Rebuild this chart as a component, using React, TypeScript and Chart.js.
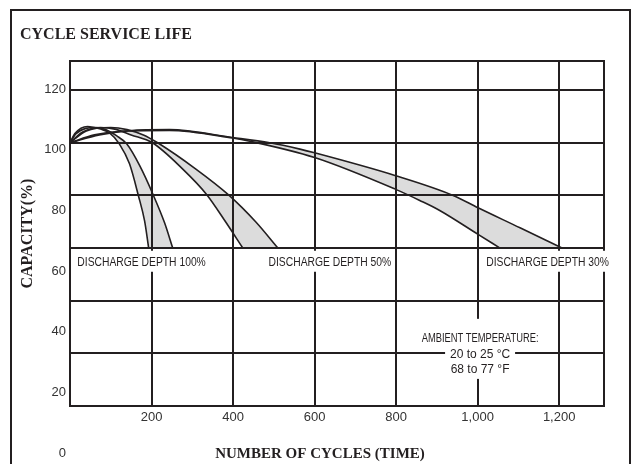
import React, { useEffect, useRef } from 'react';
import { Chart, registerables } from 'chart.js';

Chart.register(...registerables);

// ---- data (x = number of cycles, y = capacity %) ----
const depth100Lower: [number, number][] = [[0, 100], [12, 103.5], [43, 106.2], [75, 105.2], [97, 103.8], [121, 99.6], [146, 92], [168, 79.8], [183, 70.3], [193, 60]];
const depth100Upper: [number, number][] = [[0, 100], [15, 103.5], [62, 105.8], [90, 104.9], [114, 102.7], [139, 99.6], [171, 91.3], [205, 79.9], [232, 69.6], [252, 60]];
const depth50Lower: [number, number][] = [[0, 100], [30, 104], [75, 105.8], [110, 105.2], [150, 103], [202, 100], [276, 90.1], [336, 80.2], [382, 69.9], [424, 60]];
const depth50Upper: [number, number][] = [[0, 100], [40, 104.5], [100, 105.8], [140, 105], [180, 103], [215, 100], [308, 90.1], [389, 80.2], [456, 69.9], [510, 60]];
const depth30Lower: [number, number][] = [[0, 100], [60, 103], [134, 104.5], [244, 104.7], [399, 101.8], [441, 100.6], [600, 94.4], [799, 82.3], [858, 78.1], [907, 74.3], [1001, 65.2], [1055, 60]];
const depth30Upper: [number, number][] = [[0, 100], [72, 103], [146, 104.6], [244, 105], [399, 102], [490, 100], [564, 97.6], [600, 96.2], [799, 87.5], [940, 80], [1001, 75.3], [1104, 67.7], [1207, 60]];

const endCapacity = 60;

const xTickValues = [0, 200, 400, 600, 800, 1000, 1200, 1310];
const xTickLabels = ['', '200', '400', '600', '800', '1,000', '1,200', ''];
const yGridValues = [0, 20, 40, 60, 80, 100, 120, 131];
const yLabelValues = [0, 20, 40, 60, 80, 100, 120];
const yLabelTexts = ['0', '20', '40', '60', '80', '100', '120'];

const depthLabelTexts = ['DISCHARGE DEPTH 100%', 'DISCHARGE DEPTH 50%', 'DISCHARGE DEPTH 30%'];
const depthLabelXs = [18, 487, 1021];
const depthLabelY = 54.8;

const ambientLines = ['AMBIENT TEMPERATURE:', '20 to 25 °C', '68 to 77 °F'];
const ambientX = 1006;
const ambientYs = [25.9, 19.8, 14.1];

const INK = '#231f20';
const FILL = '#dcdcdc';
const SANS = '"Liberation Sans", Arial, sans-serif';
const SERIF = '"Liberation Serif", "Times New Roman", serif';

const toPts = (arr: [number, number][]) => arr.map(([x, y]) => ({ x, y }));

const annotationPlugin = {
  id: 'annotations',
  afterDraw(chart: any) {
    const { ctx } = chart;
    const xs = chart.scales.x;
    const ys = chart.scales.y;
    ctx.save();
    ctx.font = `12px ${SANS}`;
    ctx.textBaseline = 'middle';
    ctx.textAlign = 'left';
    depthLabelTexts.forEach((t, i) => {
      const left = xs.getPixelForValue(depthLabelXs[i]);
      const cy = ys.getPixelForValue(depthLabelY);
      const w = ctx.measureText(t).width * 0.86;
      ctx.fillStyle = '#ffffff';
      ctx.fillRect(left - 2, cy - 11, w + 4, 21);
      ctx.fillStyle = INK;
      ctx.fillText(t, left, cy + 0.5, w);
    });
    // ambient temperature block
    const cx = xs.getPixelForValue(ambientX);
    const y0 = ys.getPixelForValue(ambientYs[0]);
    const y2 = ys.getPixelForValue(ambientYs[ambientYs.length - 1]);
    ctx.fillStyle = '#ffffff';
    ctx.fillRect(cx - 35, y0 - 19, 70, y2 - y0 + 29);
    ctx.textAlign = 'center';
    ambientLines.forEach((t, i) => {
      const cy = ys.getPixelForValue(ambientYs[i]);
      const full = ctx.measureText(t).width;
      const w = i === 0 ? full * 0.78 : full;
      ctx.fillStyle = '#ffffff';
      ctx.fillRect(cx - w / 2 - 2, cy - 7, w + 4, 14);
      ctx.fillStyle = INK;
      ctx.fillText(t, cx, cy + 0.5, w);
    });
    ctx.restore();
  },
};

export default function App() {
  const ref = useRef<HTMLCanvasElement>(null);

  useEffect(() => {
    const canvas = ref.current;
    if (!canvas) return;
    const lineDs = (data: [number, number][], bg: string) => ({
      data: toPts(data),
      fill: { value: endCapacity },
      backgroundColor: bg,
      borderColor: INK,
      borderWidth: 1.6,
      pointRadius: 0,
      cubicInterpolationMode: 'monotone' as const,
      xAxisID: 'x',
      yAxisID: 'y',
    });
    const tickFont = { family: SANS, size: 13 };
    const chart = new Chart(canvas, {
      type: 'line',
      data: {
        datasets: [
          lineDs(depth100Lower, '#ffffff'),
          lineDs(depth100Upper, FILL),
          lineDs(depth50Lower, '#ffffff'),
          lineDs(depth50Upper, FILL),
          lineDs(depth30Lower, '#ffffff'),
          lineDs(depth30Upper, FILL),
        ] as any,
      },
      options: {
        responsive: false,
        animation: false,
        devicePixelRatio: 1,
        events: [],
        layout: { padding: { left: 20, right: 14, top: 0, bottom: 0 } },
        plugins: {
          legend: { display: false },
          tooltip: { enabled: false },
          filler: { drawTime: 'beforeDraw' },
          title: {
            display: true,
            text: 'CYCLE SERVICE LIFE',
            align: 'start',
            color: INK,
            font: { family: SERIF, size: 16, weight: 'bold', lineHeight: 1.2 },
            padding: { top: 25, bottom: 17 },
          },
          subtitle: {
            display: true,
            position: 'bottom',
            text: 'NUMBER OF CYCLES (TIME)',
            color: INK,
            font: { family: SERIF, size: 15, weight: 'bold', lineHeight: 1.2 },
            padding: { top: 19, bottom: 1 },
          },
        } as any,
        scales: {
          x: {
            type: 'linear',
            position: 'bottom',
            min: 0,
            max: 1310,
            afterBuildTicks: (s: any) => { s.ticks = xTickValues.map((v) => ({ value: v })); },
            afterFit: (s: any) => { s.height = 20; },
            ticks: {
              callback: (_v: any, i: number) => xTickLabels[i] ?? '',
              font: tickFont,
              color: '#333',
              padding: 4,
              autoSkip: false,
              maxRotation: 0,
            },
            grid: { color: INK, lineWidth: 2, drawTicks: false },
            border: { color: INK, width: 2 },
          },
          y: {
            type: 'linear',
            position: 'right',
            min: 0,
            max: 131,
            afterBuildTicks: (s: any) => { s.ticks = yGridValues.map((v) => ({ value: v })); },
            afterFit: (s: any) => { s.width = 16; },
            ticks: { display: false },
            grid: { color: INK, lineWidth: 2, drawTicks: false },
            border: { color: INK, width: 2 },
          },
          yl: {
            type: 'linear',
            position: 'left',
            min: 15.5,
            max: 129.2,
            afterBuildTicks: (s: any) => { s.ticks = yLabelValues.map((v) => ({ value: v })); },
            afterFit: (s: any) => { s.width = 50; },
            ticks: {
              callback: (_v: any, i: number) => yLabelTexts[i] ?? '',
              font: tickFont,
              color: '#333',
              padding: 4,
              autoSkip: false,
            },
            grid: { display: false, drawTicks: false },
            border: { display: true, color: INK, width: 2 },
            title: {
              display: true,
              text: 'CAPACITY(%)',
              color: INK,
              font: { family: SERIF, size: 16, weight: 'bold', lineHeight: 1 },
              padding: 0,
            },
          },
        } as any,
      },
      plugins: [annotationPlugin],
    });
    return () => chart.destroy();
  }, []);

  return (
    <div style={{ position: 'fixed', left: 0, top: 0, width: 634, height: 464, overflow: 'hidden', background: '#ffffff' }}>
      <div style={{ position: 'absolute', left: 10, top: 9, width: 621, height: 520, border: `2px solid ${INK}`, boxSizing: 'border-box' }} />
      <canvas ref={ref} width={634} height={464} style={{ position: 'absolute', left: 0, top: 0, width: 634, height: 464, display: 'block' }} />
    </div>
  );
}
